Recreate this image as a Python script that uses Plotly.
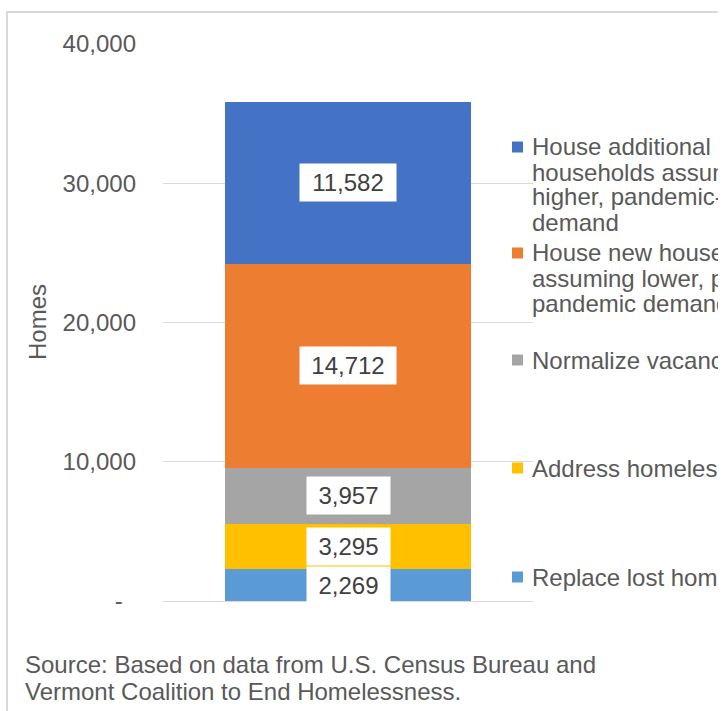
import plotly.graph_objects as go

# ---- data ----
category = ["Homes needed"]
series_names = [
    "Replace lost homes",
    "Address homelessness",
    "Normalize vacancy rates",
    "House new households<br>assuming lower, pre-<br>pandemic demand",
    "House additional new<br>households assuming<br>higher, pandemic-era<br>demand",
]
series_values = [2269, 3295, 3957, 14712, 11582]
series_colors = ["#5B9BD5", "#FFC000", "#A5A5A5", "#ED7D31", "#4472C4"]
tick_values = [0, 10000, 20000, 30000, 40000]
tick_labels = ["-\u00a0\u00a0", "10,000", "20,000", "30,000", "40,000"]
y_title = "Homes"
source_lines = ["Source: Based on data from U.S. Census Bureau and",
                "Vermont Coalition to End Homelessness."]

# ---- layout geometry (pixels) ----
W, H = 718, 711          # the reference is a crop that cuts the legend at ~718px
L, R, T, B = 163, 533, 44, 601
FONT = "Liberation Sans, Arial, sans-serif"
TXT = "#595959"
FS = 24


def px_x(p):
    return (p - L) / (R - L)


def px_y(p):
    return (B - p) / (B - T)


fig = go.Figure()
for name, val, col in zip(series_names, series_values, series_colors):
    fig.add_trace(go.Bar(x=category, y=[val], name=name.replace("<br>", " "),
                         marker=dict(color=col, line=dict(width=0)),
                         showlegend=False, hoverinfo="skip"))

annotations = []
shapes = []

# data labels with white boxes at segment midpoints
base = 0
for val in series_values:
    mid = base + val / 2
    base += val
    label = f"{val:,}"
    annotations.append(dict(
        x=category[0], y=mid, xref="x", yref="y", text=label, showarrow=False,
        font=dict(family=FONT, size=FS, color="#404040"),
        bgcolor="white", width=90 if len(label) > 5 else 77, height=31,
        borderpad=3, xanchor="center", yanchor="middle"))

# legend (custom, Excel-like spacing), top item first
legend_first_line_y = [577, 468, 360, 253, 147]
for name, col, yc in zip(series_names, series_colors, legend_first_line_y):
    shapes.append(dict(type="rect", xref="paper", yref="paper",
                       x0=px_x(512), x1=px_x(523), y0=px_y(yc + 5.5), y1=px_y(yc - 5.5),
                       fillcolor=col, line=dict(width=0)))
    for i, line in enumerate(name.split("<br>")):
        annotations.append(dict(
            x=px_x(530), y=px_y(yc + i * 25), xref="paper", yref="paper",
            text=line, showarrow=False, xanchor="left", yanchor="middle",
            font=dict(family=FONT, size=FS, color=TXT)))

# y-axis title
annotations.append(dict(
    x=px_x(37), y=px_y(322), xref="paper", yref="paper", text=y_title,
    showarrow=False, textangle=-90, xanchor="center", yanchor="middle",
    font=dict(family=FONT, size=FS, color=TXT)))

# source
for i, line in enumerate(source_lines):
    annotations.append(dict(
        x=px_x(23), y=px_y(664 + i * 27), xref="paper", yref="paper",
        text=line, showarrow=False, xanchor="left", yanchor="middle",
        font=dict(family=FONT, size=FS, color=TXT)))

# chart frame (cropped Excel chart border)
shapes.append(dict(type="line", xref="paper", yref="paper",
                   x0=px_x(7), x1=px_x(7), y0=px_y(12), y1=px_y(H + 5),
                   line=dict(color="#D9D9D9", width=2)))
shapes.append(dict(type="line", xref="paper", yref="paper",
                   x0=px_x(6), x1=px_x(W + 10), y0=px_y(12), y1=px_y(12),
                   line=dict(color="#D9D9D9", width=2)))

fig.update_layout(
    width=W, height=H,
    margin=dict(l=L, r=W - R, t=T, b=H - B, pad=0),
    barmode="stack", bargap=0.335,
    plot_bgcolor="white", paper_bgcolor="white",
    annotations=annotations, shapes=shapes,
    showlegend=False,
    xaxis=dict(showticklabels=False, showgrid=False, zeroline=False,
               showline=False, ticks=""),
    yaxis=dict(range=[0, 40000], tickvals=tick_values, ticktext=tick_labels,
               showgrid=True, gridcolor="#D9D9D9", gridwidth=1,
               zeroline=True, zerolinecolor="#D9D9D9", zerolinewidth=1,
               showline=False, ticks="", ticklabelstandoff=26,
               tickfont=dict(family=FONT, size=FS, color=TXT)),
)

fig.write_html("out.html", config={"displayModeBar": False},
               post_script="document.body.style.margin='0';document.body.style.overflow='hidden';")
